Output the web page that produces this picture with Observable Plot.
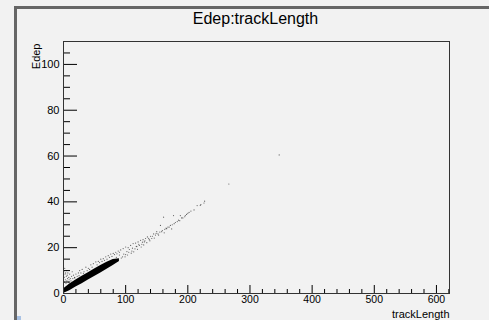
<!DOCTYPE html>
<html>
<head>
<meta charset="utf-8">
<script src="https://cdn.jsdelivr.net/npm/d3@7"></script>
<script src="https://cdn.jsdelivr.net/npm/@observablehq/plot@0.6"></script>
<style>
  html, body { margin: 0; padding: 0; background: #f2f2f2; }
  #wrap { position: relative; width: 489px; height: 320px; overflow: hidden; background: #f2f2f2; font-family: "Liberation Sans", Arial, sans-serif; }
  #topbar { position: absolute; left: 14px; top: 6px; width: 475px; height: 3px; background: #666; }
  #leftbar { position: absolute; left: 14px; top: 6px; width: 3px; height: 314px; background: #666; }
  #corner { position: absolute; left: 17px; top: 316px; width: 4px; height: 4px; background: #a9c2e4; }
  #title { position: absolute; left: 0; width: 511px; top: 10px; text-align: center; font-size: 16px; color: #000; }
  svg { position: absolute; left: 0; top: 0; }
</style>
</head>
<body>
<div id="wrap">
  <div id="topbar"></div>
  <div id="leftbar"></div>
  <div id="corner"></div>
  <div id="title">Edep:trackLength</div>
</div>
<script>
// Dense core of the scatter (trackLength, lower / upper Edep edge)
const coreT  = [0, 10, 20, 30, 40, 50, 60, 70, 80, 90];
const coreLo = [0, 1.2, 2.8, 4.3, 5.9, 7.4, 9.0, 10.6, 12.2, 14.0];
const coreHi = [2.0, 4.2, 5.9, 7.5, 9.1, 10.7, 12.2, 13.6, 14.8, 15.2];

// Sparse points
const trackLength = [
  0.5, 1, 1.5, 2, 2.5, 3, 3.5, 4, 4.5, 5, 5.5, 6, 6.5, 7, 8, 8.5, 9, 10, 11, 12, 13, 14, 15, 16, 18, 20, 22, 24, 26, 28, 30, 33, 36, 40, 44, 48, 52, 56, 60, 64, 68, 72, 76, 80, 84, 88, 92, 96, 100, 104, 108, 112, 116, 120, 124, 128, 132, 135, 140, 145, 150, 156, 161, 165, 172, 177, 180, 188, 195, 202, 210, 215, 221, 226, 227, 220, 266, 347,
  95, 100, 105, 110, 115, 118, 122, 126, 130, 138, 142, 148, 152, 158, 163, 168, 175, 185, 192, 198, 205,
  18, 25, 32, 38, 42, 46, 54, 58, 62, 66, 70, 74, 78, 82, 86, 90,
  82, 85, 87, 90, 93, 97, 99, 102, 103, 106, 109, 111, 113, 117, 119, 121, 125, 127, 129, 131, 134, 137, 139, 143, 146, 149, 153, 155, 159, 162, 166, 170, 174, 178, 183, 187, 190, 196, 200
];
const edep = [
  9.5, 7, 5, 11, 8.5, 6, 9, 4.5, 7.5, 10, 5.5, 8, 6.5, 9, 5, 7, 6, 8.5, 6.5, 5.5, 7.5, 9.5, 6.5, 8, 7, 8.5, 7.5, 9, 10, 9, 10.5, 9.5, 11.5, 11, 12.5, 13, 13.8, 14, 15, 15.2, 16, 16.5, 17.2, 17.5, 18, 18.5, 19, 19.6, 20.3, 20, 21, 21.8, 22, 22.5, 23.2, 23.5, 24, 24.7, 25, 26, 27, 29.7, 33.3, 28.5, 29.7, 34, 31, 34, 33.5, 35.4, 36.5, 38.4, 38.8, 39.5, 40.3, 38.5, 47.8, 60.5,
  16, 17, 18, 18.5, 19.5, 20.5, 21, 21.5, 22.5, 23.5, 24, 25.5, 26, 27, 28, 29, 30, 32, 33, 34.5, 36,
  6.8, 7.8, 8.8, 10, 10.5, 11.5, 12.5, 13.5, 14, 14.5, 15, 15.8, 16.2, 17, 17.3, 18,
  14.5, 15.8, 14.2, 16.8, 15.5, 17.2, 16, 18.3, 16.8, 19.2, 17.6, 19.8, 18.2, 20.6, 19.3, 21.5, 20.3, 22.4, 21.2, 23, 22.2, 24.1, 23, 25, 24.2, 26.2, 25.5, 26.8, 27.5, 26.5, 28.3, 29, 28.2, 30.5, 31.4, 31.8, 33, 34, 35
];

const xMajor = [0, 100, 200, 300, 400, 500, 600];
const xMinor = [20, 40, 60, 80, 120, 140, 160, 180, 220, 240, 260, 280, 320, 340, 360, 380, 420, 440, 460, 480, 520, 540, 560, 580, 620];
const yMajor = [0, 20, 40, 60, 80, 100];
const yMinor = [5, 10, 15, 25, 30, 35, 45, 50, 55, 65, 70, 75, 85, 90, 95, 105, 110];

const core = coreT.map((t, i) => ({t, lo: coreLo[i], hi: coreHi[i]}));
const pts = trackLength.map((t, i) => ({t, e: edep[i]}));

const W = 489, H = 320, mL = 63, mR = 40, mT = 41, mB = 27;
const innerH = H - mT - mB, innerW = W - mL - mR;

const chart = Plot.plot({
  width: W, height: H,
  marginLeft: mL, marginRight: mR, marginTop: mT, marginBottom: mB,
  style: {background: "transparent", fontFamily: "Liberation Sans, Arial, sans-serif", fontSize: "10.5px", color: "#000"},
  x: {domain: [0, 621], label: null},
  y: {domain: [0, 110], label: null},
  marks: [
    Plot.areaY(core, {x: "t", y1: "lo", y2: "hi", fill: "#000", curve: "linear"}),
    Plot.dot(pts, {x: "t", y: "e", r: 0.6, fill: "#000", fillOpacity: 0.6, stroke: "none"}),
    Plot.tickX(xMajor, {x: d => d, insetTop: innerH - 8, stroke: "#000"}),
    Plot.tickX(xMinor, {x: d => d, insetTop: innerH - 4, stroke: "#000"}),
    Plot.tickY(yMajor, {y: d => d, insetRight: innerW - 14, stroke: "#000"}),
    Plot.tickY(yMinor, {y: d => d, insetRight: innerW - 7, stroke: "#000"}),
    Plot.axisX({ticks: xMajor, tickSize: 0, tickPadding: 2, fontSize: 10.5, label: null}),
    Plot.axisY({ticks: yMajor, tickSize: 0, tickPadding: 4, fontSize: 11, label: null}),
    Plot.frame({stroke: "#333"}),
    Plot.text(["trackLength"], {frameAnchor: "bottom-right", dy: 21, dx: 0, textAnchor: "end", lineAnchor: "middle", fontSize: 11}),
    Plot.text(["Edep"], {frameAnchor: "top-left", dx: -31, dy: 2, rotate: -90, textAnchor: "end", fontSize: 11})
  ]
});
document.getElementById("wrap").appendChild(chart);
</script>
</body>
</html>
